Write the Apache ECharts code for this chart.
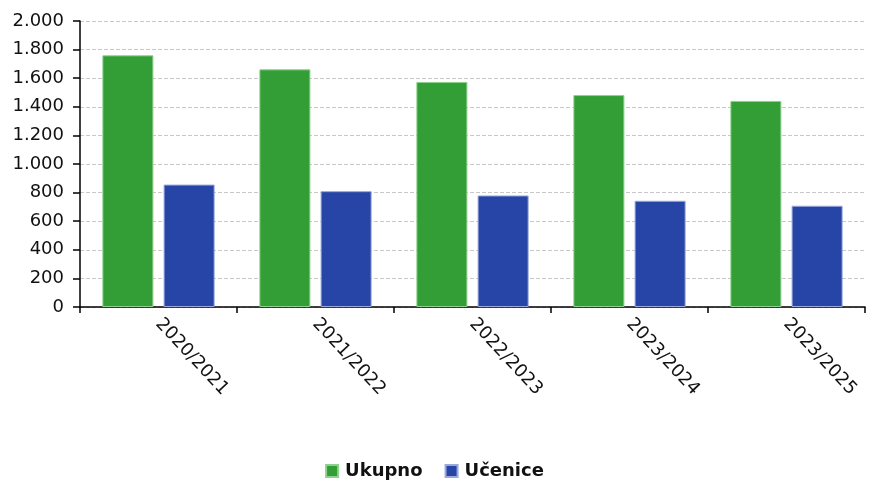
<!DOCTYPE html>
<html><head><meta charset="utf-8">
<script src="https://cdn.jsdelivr.net/npm/echarts@6/dist/echarts.min.js"></script>
<style>html,body{margin:0;padding:0;background:#fff}#c{width:869px;height:481px}</style>
</head><body><div id="c"></div>
<script>
const categories = ['2020/2021','2021/2022','2022/2023','2023/2024','2023/2025'];
const ukupno = [1760, 1662, 1574, 1482, 1441];
const ucenice = [856, 810, 780, 743, 708];
const yTicks = [0, 2000, 200];

const font = 'DejaVu Sans';
const chart = echarts.init(document.getElementById('c'));
chart.setOption({
  animation: false,
  grid: {left: 80, right: 4, top: 21, bottom: 174, containLabel: false},
  legend: {
    top: 457, left: 'center', itemWidth: 12, itemHeight: 12, itemGap: 22,
    icon: 'rect',
    textStyle: {fontFamily: font, fontWeight: 'bold', fontSize: 18, color: '#111', padding: [0, 0, 0, 2]},
    data: ['Ukupno', 'Učenice']
  },
  xAxis: {
    type: 'category', data: categories,
    axisLine: {lineStyle: {color: '#000', width: 1.5}},
    axisTick: {show: true, length: 6, lineStyle: {color: '#000', width: 1.5}},
    axisLabel: {rotate: -47, fontFamily: font, fontSize: 18, color: '#111', margin: 14}
  },
  yAxis: {
    type: 'value', min: yTicks[0], max: yTicks[1], interval: yTicks[2],
    axisLine: {show: true, lineStyle: {color: '#000', width: 1.5}},
    axisTick: {show: true, length: 7, lineStyle: {color: '#000', width: 1.5}},
    splitLine: {show: true, lineStyle: {color: '#c8c8c8', type: [4, 2], width: 1}},
    axisLabel: {fontFamily: font, fontSize: 18, color: '#111', margin: 16,
      formatter: v => v.toString().replace(/\B(?=(\d{3})+(?!\d))/g, '.')}
  },
  series: [
    {name: 'Ukupno', type: 'bar', data: ukupno, barWidth: '32.5%', barGap: '20%',
     itemStyle: {color: '#339e35', borderColor: '#8fd08f', borderWidth: 1}},
    {name: 'Učenice', type: 'bar', data: ucenice, barWidth: '32.5%',
     itemStyle: {color: '#2645a6', borderColor: '#9aa8dc', borderWidth: 1}}
  ]
});
</script></body></html>
